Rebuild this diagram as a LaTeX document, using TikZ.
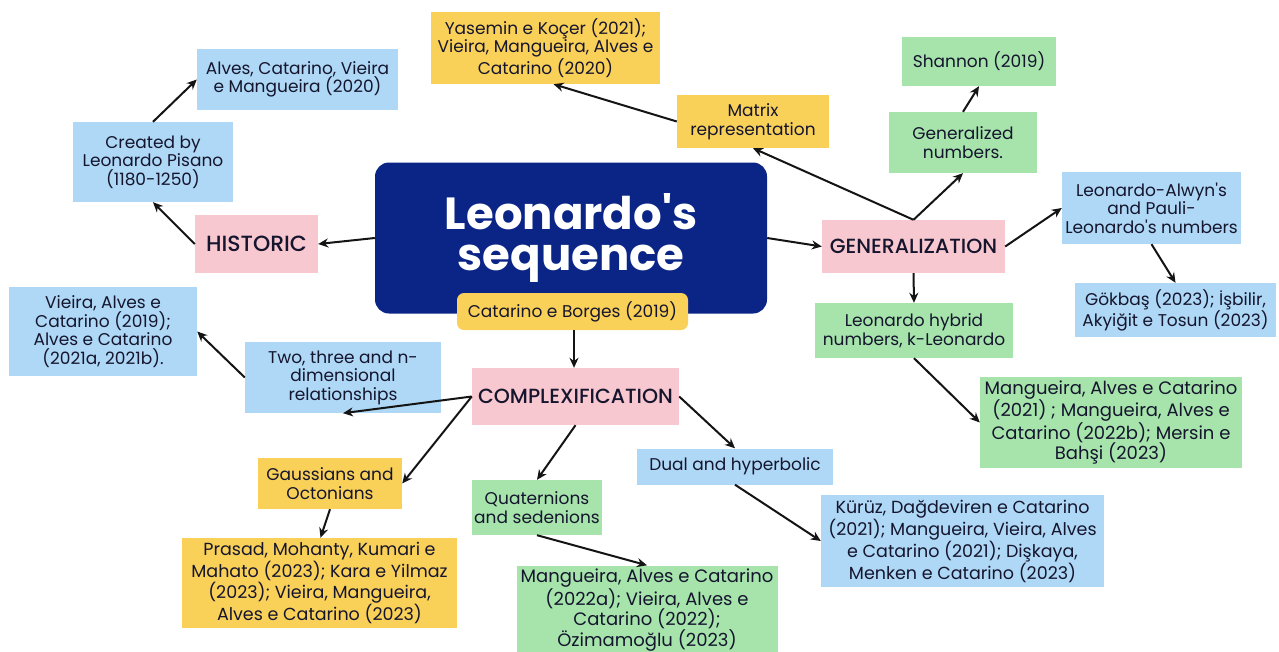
\documentclass[tikz,border=0pt]{standalone}
\usepackage{fontspec}
\setmainfont{Poppins}
\newfontfamily\headfont{Poppins Medium}
\usetikzlibrary{arrows.meta,calc}
\definecolor{cblue}{HTML}{AED8F5}
\definecolor{cpink}{HTML}{F8C8D0}
\definecolor{cyellow}{HTML}{F9D158}
\definecolor{cgreen}{HTML}{A6E4AB}
\definecolor{cnavy}{HTML}{0B2587}
\definecolor{ink}{HTML}{15152E}
\begin{document}
\begin{tikzpicture}[x=1pt,y=-1pt,
  box/.style={rectangle, inner sep=1pt, align=center, text=ink,
    font=\fontsize{17}{18.5}\selectfont},
  head/.style={box, fill=cpink, font=\headfont\fontsize{20.5}{22}\selectfont},
  arr/.style={-{Stealth[length=10pt,width=9pt]}, line width=2pt, draw=black!92}]
\fill[white] (0,0) rectangle (1279,651);
\useasboundingbox (0,0) rectangle (1279,651);

% centre
\node[rectangle, rounded corners=14pt, fill=cnavy, text=white, align=center,
  minimum width=392pt, minimum height=151pt,
  font=\bfseries\fontsize{45}{41}\selectfont] (main) at (571,238)
  {Leonardo\textquotesingle s\\sequence};
\node[box, fill=cyellow, rounded corners=7pt, minimum width=231pt, minimum height=37pt] (borges) at (572.5,311.5) {Catarino e Borges (2019)};

% historic branch
\node[head, font=\headfont\fontsize{22}{24}\selectfont, minimum width=123pt, minimum height=58pt] (historic) at (256.5,244) {HISTORIC};
\node[box, fill=cblue, minimum width=160pt, minimum height=80pt] (created) at (153,162) {Created by\\Leonardo Pisano\\(1180-1250)};
\node[box, fill=cblue, minimum width=201pt, minimum height=61pt] (alves) at (297.5,79.5) {Alves, Catarino, Vieira\\e Mangueira (2020)};

% generalization branch
\node[head, minimum width=183pt, minimum height=53pt] (gen) at (913.5,246.5) {GENERALIZATION};
\node[box, fill=cyellow, minimum width=229pt, minimum height=72pt] (yasemin) at (545.5,48) {Yasemin e Koçer (2021);\\Vieira, Mangueira, Alves e\\Catarino (2020)};
\node[box, fill=cyellow, minimum width=152pt, minimum height=53pt] (matrix) at (753,121.5) {Matrix\\representation};
\node[box, fill=cgreen, minimum width=154pt, minimum height=49pt] (shannon) at (979,61.5) {Shannon (2019)};
\node[box, fill=cgreen, minimum width=148pt, minimum height=61pt] (gennum) at (963,142.5) {Generalized\\numbers.};
\node[box, fill=cblue, minimum width=179pt, minimum height=72pt] (alwyn) at (1151.5,208) {Leonardo-Alwyn\textquotesingle s\\and Pauli-\\Leonardo\textquotesingle s numbers};
\node[box, fill=cblue, minimum width=201pt, minimum height=54pt] (gokbas) at (1175.5,310) {Gökbaş (2023); İşbilir,\\Akyiğit e Tosun (2023)};
\node[box, fill=cgreen, minimum width=198pt, minimum height=55pt] (hybrid) at (914,330.5) {Leonardo hybrid\\numbers, k-Leonardo};
\node[box, fill=cgreen, font=\fontsize{18}{20.5}\selectfont, minimum width=262pt, minimum height=91pt] (mang21) at (1111,422.5) {Mangueira, Alves e Catarino\\(2021) ; Mangueira, Alves e\\Catarino (2022b); Mersin e\\Bahşi (2023)};

% complexification branch
\node[head, minimum width=207pt, minimum height=57pt] (complex) at (575.5,396.5) {COMPLEXIFICATION};
\node[box, fill=cblue, minimum width=196pt, minimum height=71pt] (twothree) at (343,377.5) {Two, three and n-\\dimensional\\relationships};
\node[box, fill=cblue, minimum width=188pt, minimum height=89pt] (vieira) at (103,331.5) {Vieira, Alves e\\Catarino (2019);\\Alves e Catarino\\(2021a, 2021b).};
\node[box, fill=cyellow, minimum width=144pt, minimum height=51pt] (gauss) at (330,483.5) {Gaussians and\\Octonians};
\node[box, fill=cyellow, font=\fontsize{17.5}{19}\selectfont, minimum width=275pt, minimum height=90pt] (prasad) at (319.5,583) {Prasad, Mohanty, Kumari e\\Mahato (2023); Kara e Yilmaz\\(2023); Vieira, Mangueira,\\Alves e Catarino (2023)};
\node[box, fill=cgreen, minimum width=130pt, minimum height=55pt] (quat) at (537,507.5) {Quaternions\\and sedenions};
\node[box, fill=cgreen, font=\fontsize{18}{20.5}\selectfont, minimum width=261pt, minimum height=89pt] (mang22) at (647,610) {Mangueira, Alves e Catarino\\(2022a); Vieira, Alves e\\Catarino (2022);\\Özimamoğlu (2023)};
\node[box, fill=cblue, minimum width=196pt, minimum height=36pt] (dual) at (735,466.5) {Dual and hyperbolic};
\node[box, fill=cblue, font=\fontsize{17.5}{17.5}\selectfont, minimum width=283pt, minimum height=92pt] (kuruz) at (962.5,541) {Kürüz, Dağdeviren e Catarino\\(2021); Mangueira, Vieira, Alves\\e Catarino (2021); Dişkaya,\\Menken e Catarino (2023)};

% connectors
\draw[arr] (main.west) -- (historic.east);
\draw[arr] (historic.west) -- (created.south);
\draw[arr] (created.north) -- (alves.west);
\draw[arr] (main.east) -- (gen.west);
\draw[arr] (gen.north) -- (matrix.south);
\draw[arr] (gen.north) -- (gennum.south);
\draw[arr] (gennum.north) -- (shannon.south);
\draw[arr] (gen.east) -- (alwyn.west);
\draw[arr] (alwyn.south) -- (gokbas.north);
\draw[arr] (gen.south) -- (hybrid.north);
\draw[arr] (hybrid.south) -- (mang21.west);
\draw[arr] (matrix.west) -- ([xshift=8pt]yasemin.south);
\draw[arr] ([xshift=1.5pt]borges.south) -- ([xshift=-1.5pt]complex.north);
\draw[arr] (complex.west) -- (twothree.south);
\draw[arr] (complex.west) -- (gauss.east);
\draw[arr] (twothree.west) -- (vieira.east);
\draw[arr] (gauss.south) -- ([xshift=1pt]prasad.north);
\draw[arr] (complex.south) -- (quat.north);
\draw[arr] (complex.east) -- (dual.north);
\draw[arr] (dual.south) -- (kuruz.west);
\draw[arr] (quat.south) -- (mang22.north);
\end{tikzpicture}
\end{document}
